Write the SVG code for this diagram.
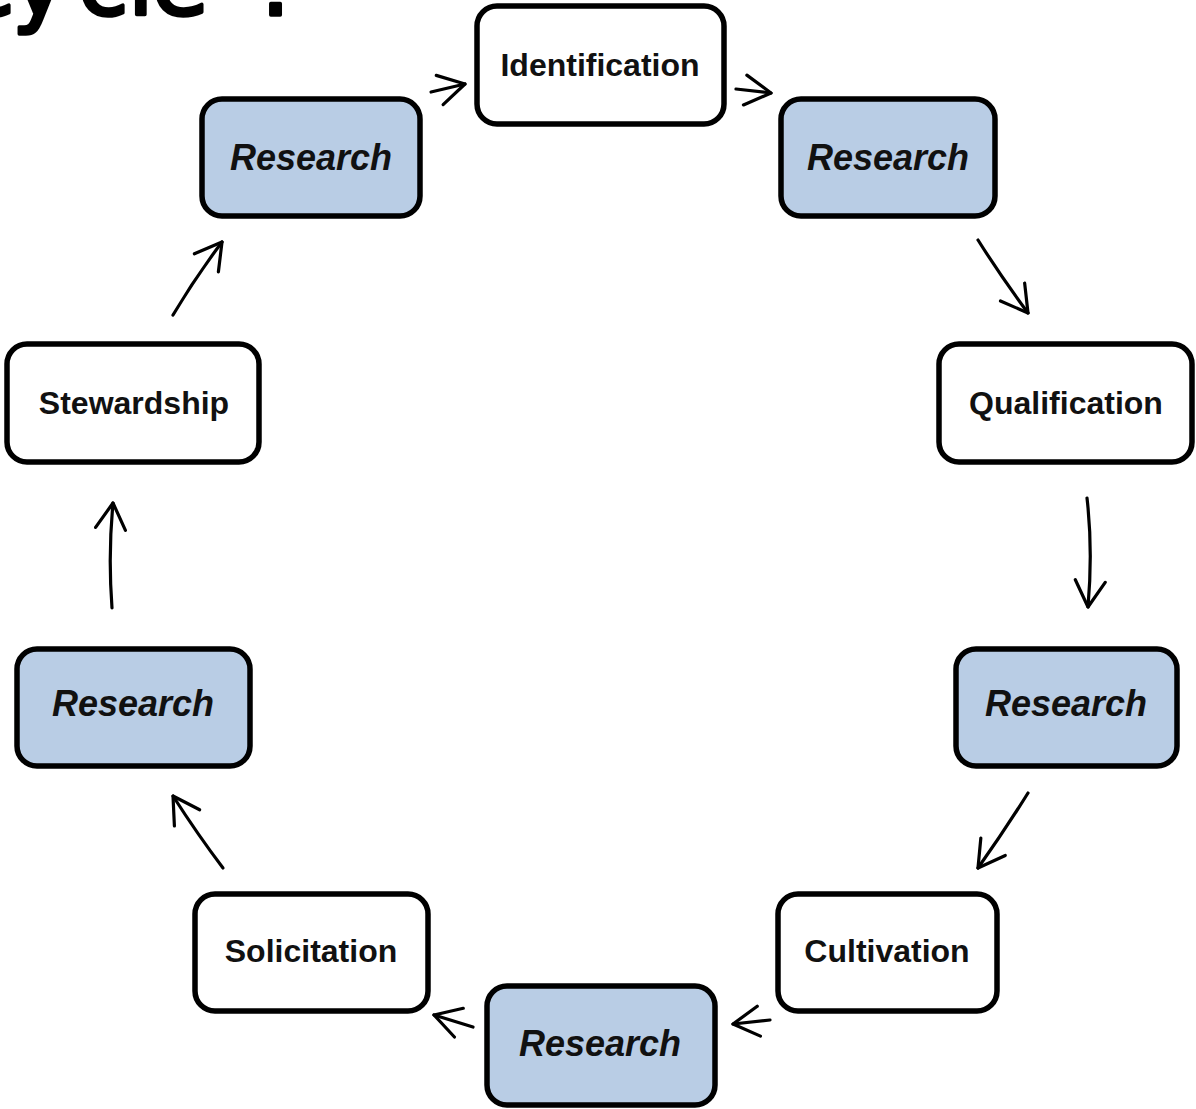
<svg xmlns="http://www.w3.org/2000/svg" width="1196" height="1109" viewBox="0 0 1196 1109">
<defs>
<style>
.box{stroke:#000;stroke-width:5.5;fill:#fff}
.res{fill:#b9cde5}
.lbl{font-family:"Liberation Sans",Arial,sans-serif;font-weight:bold;font-size:32px;fill:#111;text-anchor:middle}
.rl{font-size:36px;font-style:italic}
.title{font-family:"DejaVu Sans",sans-serif;font-weight:normal;font-size:92px;fill:#000;stroke:#000;stroke-width:3.5;stroke-linejoin:round}
.arr{fill:none;stroke:#000;stroke-width:3.2;stroke-linecap:round;marker-end:url(#ah)}
</style>
<marker id="ah" markerUnits="userSpaceOnUse" markerWidth="34" markerHeight="34" viewBox="0 0 34 34" refX="28" refY="17" orient="auto">
<polyline points="2,2 28,17 2,32" fill="none" stroke="#000" stroke-width="3.2" stroke-linecap="round" stroke-linejoin="round"/>
</marker>
</defs>
<rect width="1196" height="1109" fill="#fff"/>
<text class="title" x="-36 12 78 128 152 210 260" y="15">cycle :</text>
<g id="connectors">
<path class="arr" d="M431,92 L465,84"/>
<path class="arr" d="M736,89 L771,93"/>
<path class="arr" d="M978,240 Q1000,275 1028,313"/>
<path class="arr" d="M1087,498 Q1093,550 1088,607"/>
<path class="arr" d="M1028,793 Q1005,830 978,868"/>
<path class="arr" d="M770,1020 L733,1024"/>
<path class="arr" d="M473,1027 L434,1015"/>
<path class="arr" d="M223,868 Q198,835 173,796"/>
<path class="arr" d="M112,608 Q108,555 113,503"/>
<path class="arr" d="M173,315 Q195,278 222,242"/>
</g>
<g id="identification"><rect class="box" x="477" y="6" width="247" height="118" rx="20"/><text class="lbl" x="600" y="76">Identification</text></g>
<g id="research1"><rect class="box res" x="202" y="99" width="218" height="117" rx="20"/><text class="lbl rl" x="311" y="170">Research</text></g>
<g id="research2"><rect class="box res" x="781" y="99" width="214" height="117" rx="20"/><text class="lbl rl" x="888" y="170">Research</text></g>
<g id="stewardship"><rect class="box" x="7" y="344" width="252" height="118" rx="20"/><text class="lbl" x="134" y="414">Stewardship</text></g>
<g id="qualification"><rect class="box" x="939" y="344" width="253" height="118" rx="20"/><text class="lbl" x="1066" y="414">Qualification</text></g>
<g id="research3"><rect class="box res" x="17" y="649" width="233" height="117" rx="20"/><text class="lbl rl" x="133" y="716">Research</text></g>
<g id="research4"><rect class="box res" x="956" y="649" width="221" height="117" rx="20"/><text class="lbl rl" x="1066" y="716">Research</text></g>
<g id="solicitation"><rect class="box" x="195" y="894" width="233" height="117" rx="20"/><text class="lbl" x="311" y="962">Solicitation</text></g>
<g id="cultivation"><rect class="box" x="778" y="894" width="219" height="117" rx="20"/><text class="lbl" x="887" y="962">Cultivation</text></g>
<g id="research5"><rect class="box res" x="487" y="986" width="228" height="119" rx="20"/><text class="lbl rl" x="600" y="1056">Research</text></g>
</svg>
